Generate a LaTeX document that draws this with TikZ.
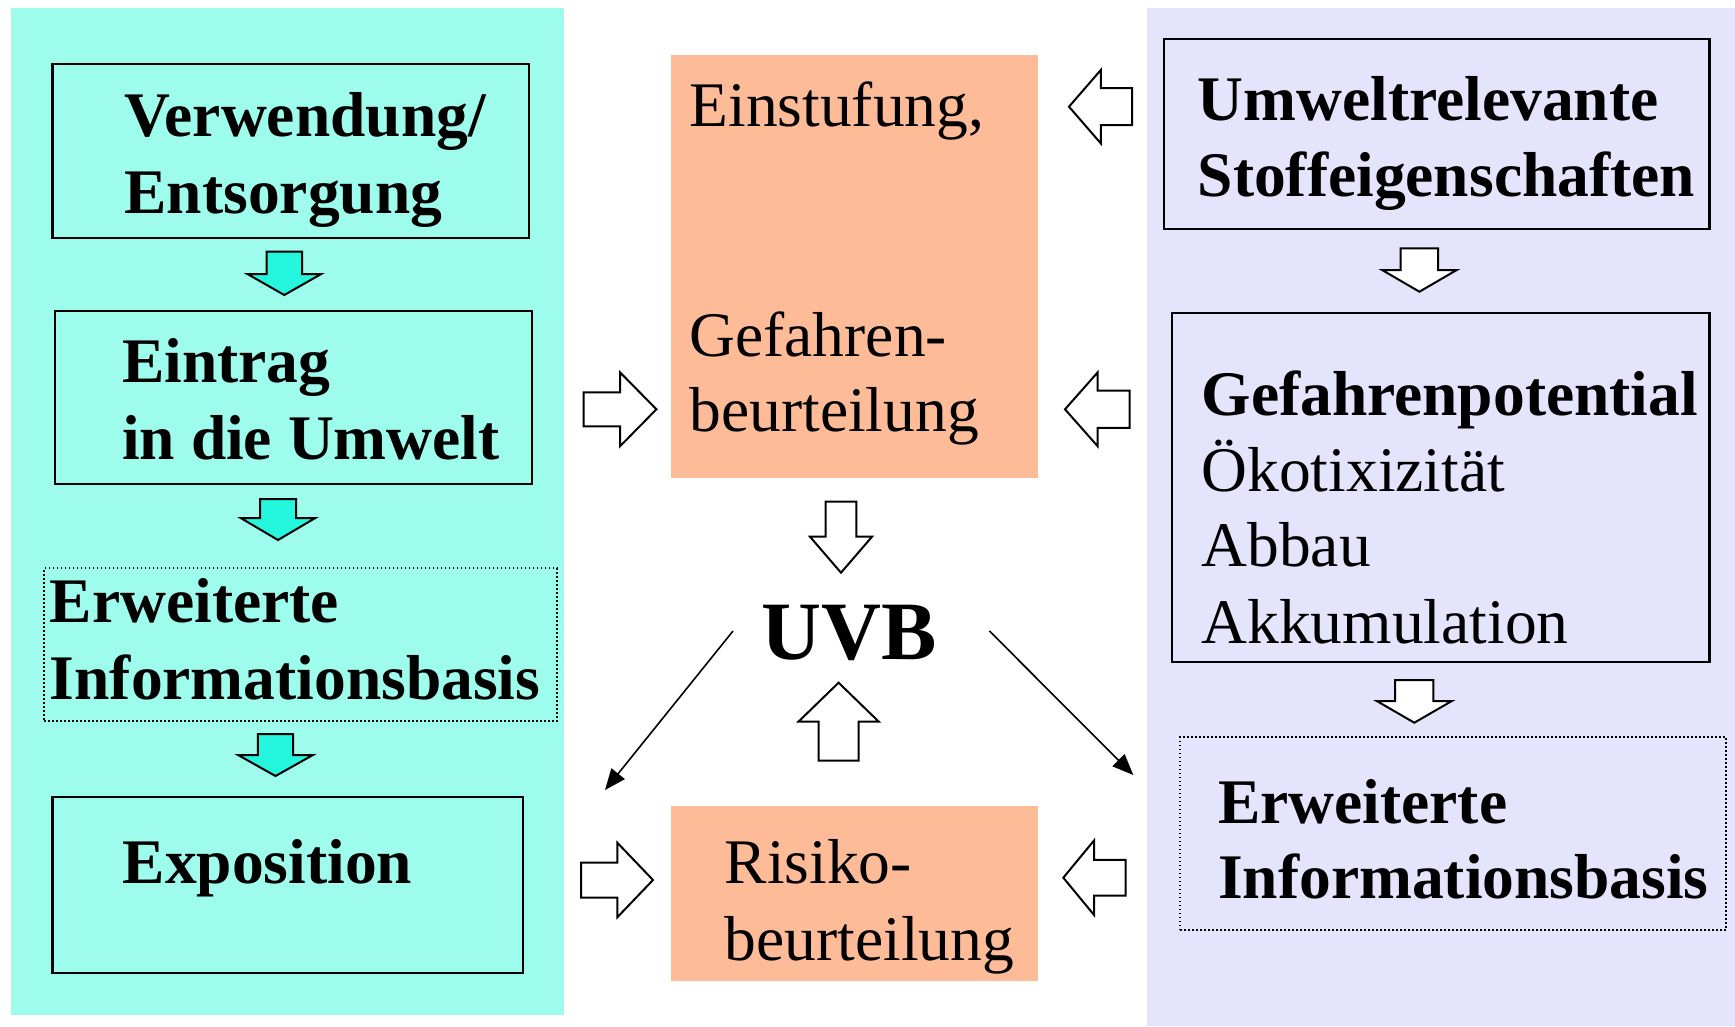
\documentclass[tikz,border=0pt]{standalone}
\usepackage{fontspec}
\setmainfont[Ligatures=NoCommon]{Liberation Serif}
\usetikzlibrary{arrows.meta}
\definecolor{panelcyan}{RGB}{158,252,236}
\definecolor{arrowcyan}{RGB}{36,247,222}
\definecolor{salmon}{RGB}{253,187,152}
\definecolor{lavender}{RGB}{228,228,252}
\newcommand\blkdown[7]{\draw[#1] (#2,#3) -- ({#2-#4},{#3-#5}) -- ({#2-#6},{#3-#5}) -- ({#2-#6},{#3-#7}) -- ({#2+#6},{#3-#7}) -- ({#2+#6},{#3-#5}) -- ({#2+#4},{#3-#5}) -- cycle;}
\newcommand\blkup[7]{\draw[#1] (#2,#3) -- ({#2-#4},{#3+#5}) -- ({#2-#6},{#3+#5}) -- ({#2-#6},{#3+#7}) -- ({#2+#6},{#3+#7}) -- ({#2+#6},{#3+#5}) -- ({#2+#4},{#3+#5}) -- cycle;}
\newcommand\blkleft[7]{\draw[#1] (#2,#3) -- ({#2+#5},{#3-#4}) -- ({#2+#5},{#3-#6}) -- ({#2+#7},{#3-#6}) -- ({#2+#7},{#3+#6}) -- ({#2+#5},{#3+#6}) -- ({#2+#5},{#3+#4}) -- cycle;}
\newcommand\blkright[7]{\draw[#1] (#2,#3) -- ({#2-#5},{#3-#4}) -- ({#2-#5},{#3-#6}) -- ({#2-#7},{#3-#6}) -- ({#2-#7},{#3+#6}) -- ({#2-#5},{#3+#6}) -- ({#2-#5},{#3+#4}) -- cycle;}
\tikzset{
  panel/.style={draw=none, anchor=north west, inner sep=0pt, outer sep=0pt},
  solidbox/.style={draw=black, line width=2.2pt, anchor=north west, inner sep=0pt, outer sep=0pt},
  dotbox/.style={draw=black, line width=1.8pt, dash pattern=on 1.8pt off 2.2pt, anchor=north west, inner sep=0pt, outer sep=0pt},
  fillbox/.style={draw=none, fill=salmon, anchor=north west, inner sep=0pt, outer sep=0pt},
  txt/.style={anchor=base west, inner sep=0pt, font=\fontsize{63.5}{76}\selectfont},
  btxt/.style={txt, font=\fontsize{63.5}{76}\selectfont\bfseries},
  cyanarrow/.style={draw=black, fill=arrowcyan, line width=2pt, line join=miter},
  whitearrow/.style={draw=black, fill=white, line width=2pt, line join=miter},
  thinarrow/.style={draw=black, line width=1.6pt, -{Triangle[length=21pt,width=17pt]}}
}
\begin{document}
\begin{tikzpicture}[x=1pt,y=-1pt]
\useasboundingbox (0,0) rectangle (1735,1026);
\fill[white] (0,0) rectangle (1735,1026);
% panels
\node[panel, fill=panelcyan, minimum width=552.7pt, minimum height=1007pt] (pl) at (11,8) {};
\node[panel, fill=lavender, minimum width=588pt, minimum height=1018pt] (pr) at (1147.4,8) {};
% left column boxes
\node[solidbox, minimum width=476.9pt, minimum height=173.7pt] (b1) at (52.4,64) {};
\node[solidbox, minimum width=477.2pt, minimum height=173pt] (b2) at (54.7,310.7) {};
\node[dotbox, minimum width=512.8pt, minimum height=152.7pt] (b3) at (44,568) {};
\node[solidbox, minimum width=470.6pt, minimum height=176.6pt] (b4) at (52.4,796.7) {};
% middle
\node[fillbox, minimum width=367.4pt, minimum height=423.3pt] (s1) at (671,55) {};
\node[fillbox, minimum width=367.4pt, minimum height=175pt] (s2) at (671,806) {};
% right column
\node[solidbox, minimum width=545.5pt, minimum height=190pt] (r1) at (1164,39.3) {};
\node[solidbox, minimum width=537.8pt, minimum height=348.4pt] (r2) at (1171.7,313.3) {};
\node[dotbox, minimum width=546pt, minimum height=192.7pt] (r3) at (1180,737.3) {};
% texts
\node[btxt] (t1a) at (124.4,136.7) {Verwendung/};
\node[btxt] (t1b) at (124.4,213.3) {Entsorgung};
\node[btxt] (t2a) at (122,382.7) {Eintrag};
\node[btxt] (t2b) at (122,459.3) {in die Umwelt};
\node[btxt] (t3a) at (49.7,622.7) {Erweiterte};
\node[btxt] (t3b) at (49.7,699) {Informationsbasis};
\node[btxt] (t4a) at (122.5,883.3) {Exposition};
\node[txt] (s1a) at (689.4,126.7) {Einstufung,};
\node[txt] (s1b) at (689.4,356.7) {Gefahren-};
\node[txt] (s1c) at (689.4,431.7) {beurteilung};
\node[anchor=base west, inner sep=0pt, font=\fontsize{83}{90}\selectfont\bfseries] (uvb) at (761,659.3) {UVB};
\node[txt] (s2a) at (724.6,883.3) {Risiko-};
\node[txt] (s2b) at (724.6,960) {beurteilung};
\node[btxt] (r1a) at (1197.5,120.7) {Umweltrelevante};
\node[btxt] (r1b) at (1197.5,196.7) {Stoffeigenschaften};
\node[btxt] (r2a) at (1201.4,415) {Gefahrenpotential};
\node[txt] (r2b) at (1201.4,491.7) {Ökotixizität};
\node[txt] (r2c) at (1201.4,566.7) {Abbau};
\node[txt] (r2d) at (1201.4,643.3) {Akkumulation};
\node[btxt] (r3a) at (1218,823.3) {Erweiterte};
\node[btxt] (r3b) at (1218,898.3) {Informationsbasis};
% cyan block arrows
\blkdown{cyanarrow}{284.3}{295}{36.9}{21}{17.8}{43.3}
\blkdown{cyanarrow}{278}{540}{37.3}{22}{18}{41}
\blkdown{cyanarrow}{275.5}{776}{37.4}{21}{17.7}{42}
% white block arrows
\blkright{whitearrow}{656.4}{409.3}{37}{36.4}{17}{72.7}
\blkright{whitearrow}{653}{880}{37.2}{35.6}{17.5}{72}
\blkleft{whitearrow}{1069}{106.7}{36.7}{31.8}{18.5}{63}
\blkleft{whitearrow}{1065}{409.3}{37}{32.7}{18.6}{64.5}
\blkleft{whitearrow}{1063.3}{877.7}{37.2}{30.7}{17.8}{62.3}
\blkdown{whitearrow}{841}{572.7}{31}{36}{15.3}{71}
\blkup{whitearrow}{838.6}{682.7}{40.2}{39}{20}{78}
\blkdown{whitearrow}{1419.4}{291.7}{37.3}{21.7}{18.75}{43.4}
\blkdown{whitearrow}{1414.3}{722.7}{37.5}{21.7}{19.1}{42.7}
% thin arrows from UVB
\coordinate (l0) at (733,631);
\coordinate (l1) at (605,790);
\coordinate (q0) at (989.4,631);
\coordinate (q1) at (1133.3,775);
\draw[thinarrow] (l0) -- (l1);
\draw[thinarrow] (q0) -- (q1);
\end{tikzpicture}
\end{document}
